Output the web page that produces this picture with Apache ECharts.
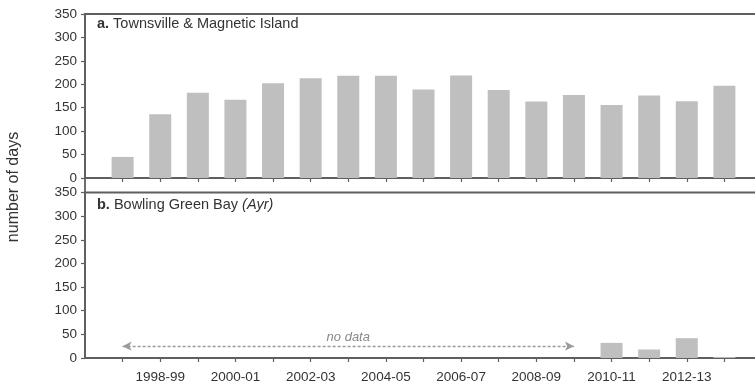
<!DOCTYPE html>
<html>
<head>
<meta charset="utf-8">
<script src="https://cdn.jsdelivr.net/npm/echarts@6/dist/echarts.min.js"></script>
<style>html,body{margin:0;padding:0;background:#fff}#c{width:755px;height:390px}</style>
</head>
<body>
<div id="c"></div>
<script>
// Seasons (padded with one empty season on each side, as in the original axis)
var seasons = ['1996-97','1997-98','1998-99','1999-00','2000-01','2001-02','2002-03','2003-04','2004-05',
  '2005-06','2006-07','2007-08','2008-09','2009-10','2010-11','2011-12','2012-13','2013-14','2014-15'];
var townsville = [null,45,136,182,167,202,213,218,218,189,219,188,163,177,156,176,164,197,null];
var bowlingGreen = [null,null,null,null,null,null,null,null,null,null,null,null,null,null,32,18,42,2,null];
var yTicks = {min:0, max:350, interval:50};
var noDataFrom = '1997-98', noDataTo = '2009-10', noDataLevel = 25;

var FONT = 'Liberation Sans';
var TXT = '#333';
var AX = '#5f5f5f';
var BAR = '#bfbfbf';

function xAxisCfg(gridIndex, showLabels){
  return {
    type:'category', gridIndex:gridIndex, data:seasons, boundaryGap:false,
    axisLine:{show:true, lineStyle:{color:AX, width:1.8}},
    axisTick:{show:true, inside:false, length:4, interval:function(i){return i>0;}, lineStyle:{color:AX, width:1.2}},
    axisLabel:{show:showLabels, interval:function(i){return i>0 && i<18 && i%2===0;}, margin:12,
      fontFamily:FONT, fontSize:13.5, color:TXT},
    splitLine:{show:false}
  };
}
function yAxisCfg(gridIndex){
  return {
    type:'value', gridIndex:gridIndex, min:yTicks.min, max:yTicks.max, interval:yTicks.interval,
    axisLine:{show:true, lineStyle:{color:AX, width:1.8}},
    axisTick:{show:true, length:4, lineStyle:{color:AX, width:1.2}},
    axisLabel:{margin:8, fontFamily:FONT, fontSize:13.5, color:TXT},
    splitLine:{show:false}
  };
}

var chart = echarts.init(document.getElementById('c'), null, {renderer:'canvas'});
chart.setOption({
  animation:false,
  backgroundColor:'#fff',
  title:[
    {text:'{b|a.} Townsville & Magnetic Island', left:97, top:16, padding:0,
      textStyle:{fontFamily:FONT, fontSize:14.5, fontWeight:'normal', color:TXT,
        rich:{b:{fontFamily:FONT, fontSize:14.5, fontWeight:'bold', color:TXT}}}},
    {text:'{b|b.} Bowling Green Bay {i|(Ayr)}', left:97, top:197, padding:0,
      textStyle:{fontFamily:FONT, fontSize:14.5, fontWeight:'normal', color:TXT,
        rich:{b:{fontFamily:FONT, fontSize:14.5, fontWeight:'bold', color:TXT},
              i:{fontFamily:FONT, fontSize:14.5, fontStyle:'italic', color:TXT}}}}
  ],
  grid:[
    {left:85, width:677, top:14, height:164, outerBoundsMode:'none', containLabel:false,
      show:true, borderColor:AX, borderWidth:1.8, backgroundColor:'transparent'},
    {left:85, width:677, top:192.5, height:165.5, outerBoundsMode:'none', containLabel:false,
      show:true, borderColor:AX, borderWidth:1.8, backgroundColor:'transparent'}
  ],
  xAxis:[xAxisCfg(0,false), xAxisCfg(1,true)],
  yAxis:[yAxisCfg(0), yAxisCfg(1)],
  graphic:[
    {type:'text', x:14, y:187, rotation:Math.PI/2,
      style:{text:'number of days', fontFamily:FONT, fontSize:16, fill:TXT, align:'center', verticalAlign:'middle'}},
    {type:'line', shape:{x1:85, y1:178, x2:85, y2:193}, style:{stroke:AX, lineWidth:1.8}}
  ],
  series:[
    {type:'bar', xAxisIndex:0, yAxisIndex:0, data:townsville, barWidth:22,
      itemStyle:{color:BAR}, silent:true},
    {type:'bar', xAxisIndex:1, yAxisIndex:1, data:bowlingGreen, barWidth:22,
      itemStyle:{color:BAR}, silent:true,
      markLine:{
        silent:true, symbol:['arrow','arrow'], symbolSize:[7,9],
        lineStyle:{color:'#9a9a9a', type:[3,2], width:1.4},
        label:{show:true, position:'middle', formatter:'no data', fontFamily:FONT, fontSize:13,
          fontStyle:'italic', color:'#888', distance:2},
        data:[[{coord:[noDataFrom, noDataLevel]}, {coord:[noDataTo, noDataLevel]}]]
      }}
  ]
});
</script>
</body>
</html>
